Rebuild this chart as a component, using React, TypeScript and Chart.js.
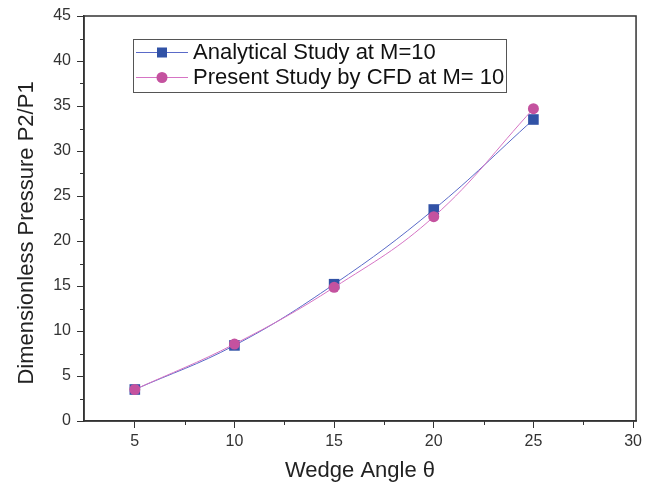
import React, { useEffect, useRef } from "react";
import { Chart, registerables } from "chart.js";

Chart.register(...registerables);

const wedgeAngles = [5, 10, 15, 20, 25];
const analytical = [3.5, 8.4, 15.2, 23.5, 33.5];
const cfd = [3.5, 8.55, 14.85, 22.7, 34.7];
const xTicks = [5, 10, 15, 20, 25, 30];
const yTicks = [0, 5, 10, 15, 20, 25, 30, 35, 40, 45];
const seriesLabels = ["Analytical Study at M=10", "Present Study by CFD at M= 10"];
const xTitle = "Wedge Angle θ";
const yTitle = "Dimensionless Pressure P2/P1";

const BLUE = "#3152a6";
const BLUE_LINE = "#5a6ac8";
const MAG = "#c4529f";
const MAG_LINE = "#d674c4";
const FONT = "'Liberation Sans', Arial, sans-serif";

const framePlugin = {
  id: "frame",
  afterDraw(chart: any) {
    const { ctx, chartArea: a, scales } = chart;
    ctx.save();
    // frame
    ctx.strokeStyle = "#333";
    ctx.lineWidth = 1.5;
    ctx.strokeRect(a.left, a.top, a.right - a.left, a.bottom - a.top);
    // minor ticks
    ctx.lineWidth = 1;
    const xs = scales.x;
    for (let v = 7.5; v < 30; v += 5) {
      const px = Math.round(xs.getPixelForValue(v)) + 0.5;
      ctx.beginPath();
      ctx.moveTo(px, a.bottom);
      ctx.lineTo(px, a.bottom + 4);
      ctx.stroke();
    }
    const ys = scales.y;
    for (let v = 2.5; v < 45; v += 5) {
      const py = Math.round(ys.getPixelForValue(v)) + 0.5;
      ctx.beginPath();
      ctx.moveTo(a.left, py);
      ctx.lineTo(a.left - 4, py);
      ctx.stroke();
    }
    // axis titles
    ctx.fillStyle = "#222";
    ctx.font = `22px ${FONT}`;
    ctx.textAlign = "center";
    ctx.textBaseline = "alphabetic";
    ctx.fillText(xTitle, 360, 477);
    ctx.save();
    ctx.translate(33, 233);
    ctx.rotate(-Math.PI / 2);
    ctx.fillText(yTitle, 0, 0);
    ctx.restore();
    // legend
    const bx = 133, by = 39, bw = 373, bh = 53;
    ctx.fillStyle = "#fff";
    ctx.fillRect(bx, by, bw, bh);
    ctx.strokeStyle = "#555";
    ctx.lineWidth = 1;
    ctx.strokeRect(bx + 0.5, by + 0.5, bw, bh);
    const rows = [
      { label: seriesLabels[0], line: BLUE_LINE, fill: BLUE, shape: "rect", y: 52 },
      { label: seriesLabels[1], line: MAG_LINE, fill: MAG, shape: "circle", y: 77 },
    ];
    ctx.font = `22px ${FONT}`;
    ctx.textAlign = "left";
    ctx.textBaseline = "middle";
    for (const r of rows) {
      ctx.strokeStyle = r.line;
      ctx.lineWidth = 1;
      ctx.beginPath();
      ctx.moveTo(136, r.y + 0.5);
      ctx.lineTo(188, r.y + 0.5);
      ctx.stroke();
      ctx.fillStyle = r.fill;
      if (r.shape === "rect") {
        ctx.fillRect(157, r.y - 4.5, 10, 10);
      } else {
        ctx.beginPath();
        ctx.arc(162, r.y + 0.5, 5.5, 0, Math.PI * 2);
        ctx.fill();
      }
      ctx.fillStyle = "#111";
      ctx.fillText(r.label, 193, r.y + 1);
    }
    ctx.restore();
  },
};

export default function App() {
  const ref = useRef<HTMLCanvasElement>(null);
  useEffect(() => {
    document.body.style.margin = "0";
    const chart = new Chart(ref.current!, {
      type: "line",
      data: {
        datasets: [
          {
            label: seriesLabels[0],
            data: wedgeAngles.map((x, i) => ({ x, y: analytical[i] })),
            borderColor: BLUE_LINE,
            backgroundColor: BLUE,
            borderWidth: 1,
            pointStyle: "rect",
            pointRadius: 7.5,
            pointBorderWidth: 0,
            tension: 0.4,
            order: 1,
          },
          {
            label: seriesLabels[1],
            data: wedgeAngles.map((x, i) => ({ x, y: cfd[i] })),
            borderColor: MAG_LINE,
            backgroundColor: MAG,
            borderWidth: 1,
            pointStyle: "circle",
            pointRadius: 5.5,
            pointBorderWidth: 0,
            tension: 0.4,
            order: 0,
          },
        ],
      },
      options: {
        animation: false,
        responsive: false,
        devicePixelRatio: 1,
        layout: { padding: { top: 16, right: 8, left: 0, bottom: 0 } },
        plugins: { legend: { display: false }, tooltip: { enabled: false } },
        scales: {
          x: {
            type: "linear",
            min: 2.45,
            max: 30.15,
            afterBuildTicks: (s: any) => {
              s.ticks = xTicks.map((v) => ({ value: v }));
            },
            afterFit: (s: any) => {
              s.height = 64;
            },
            grid: { drawOnChartArea: false, tickLength: 7, color: "#333", tickColor: "#333" },
            border: { display: true, color: "#333", width: 1.5 },
            ticks: {
              color: "#333",
              font: { family: FONT, size: 16 },
              padding: 4,
              maxRotation: 0,
              callback: (v: any) => String(v),
            },
          },
          y: {
            type: "linear",
            min: 0,
            max: 45,
            afterBuildTicks: (s: any) => {
              s.ticks = yTicks.map((v) => ({ value: v }));
            },
            afterFit: (s: any) => {
              s.width = 84;
            },
            grid: { drawOnChartArea: false, tickLength: 7, color: "#333", tickColor: "#333" },
            border: { display: true, color: "#333", width: 1.5 },
            ticks: {
              color: "#333",
              font: { family: FONT, size: 16 },
              padding: 6,
              callback: (v: any) => String(v),
            },
          },
        },
      },
      plugins: [framePlugin],
    } as any);
    return () => chart.destroy();
  }, []);
  return (
    <div style={{ width: 646, height: 485 }}>
      <canvas ref={ref} width={646} height={485} style={{ display: "block" }} />
    </div>
  );
}
